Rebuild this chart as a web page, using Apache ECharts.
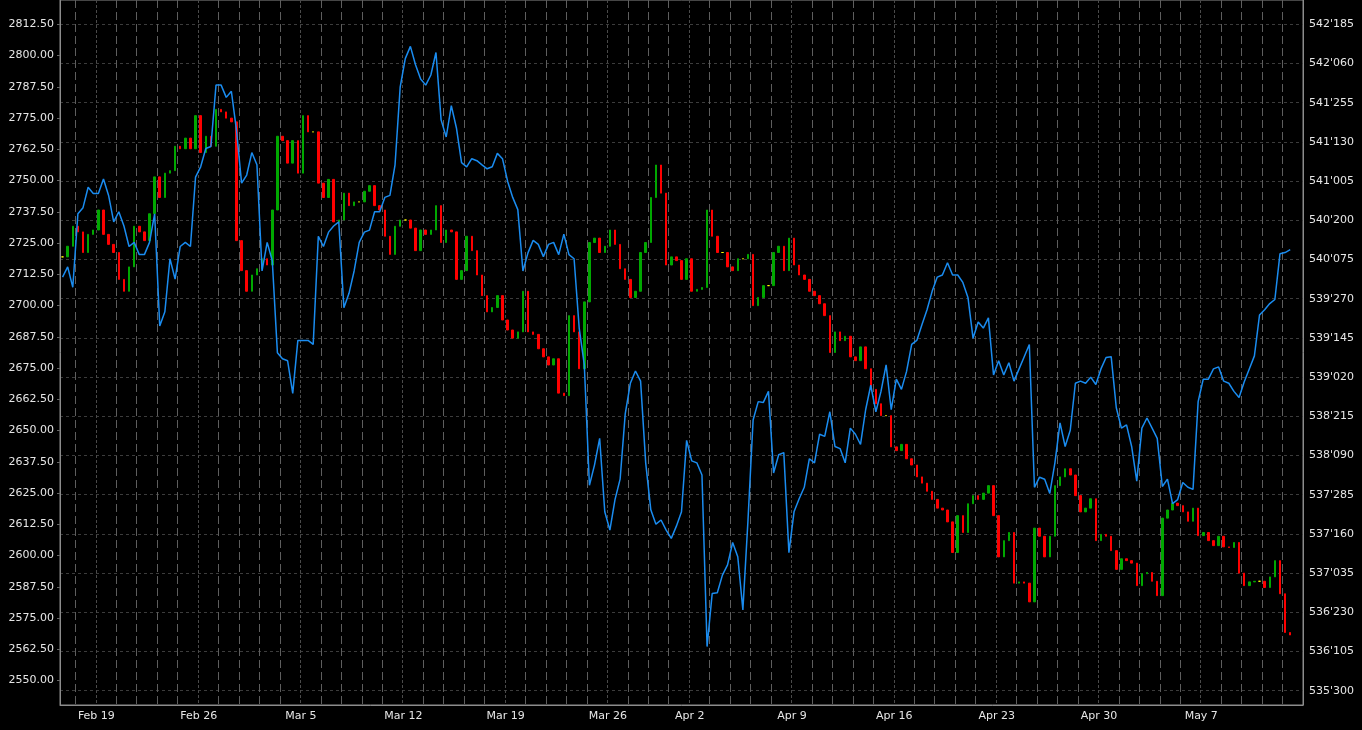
<!DOCTYPE html>
<html><head><meta charset="utf-8">
<script src="https://cdn.jsdelivr.net/npm/echarts@6/dist/echarts.min.js"></script>
<style>html,body{margin:0;padding:0;background:#000;}#c{width:1362px;height:730px;}</style>
</head><body><div id="c"></div><script>
// Trading days (Good Friday Mar 30 absent); first day is only partly visible
const days = ['2018-02-15','2018-02-16','2018-02-19','2018-02-20','2018-02-21','2018-02-22','2018-02-23',
'2018-02-26','2018-02-27','2018-02-28','2018-03-01','2018-03-02','2018-03-05','2018-03-06','2018-03-07','2018-03-08','2018-03-09',
'2018-03-12','2018-03-13','2018-03-14','2018-03-15','2018-03-16','2018-03-19','2018-03-20','2018-03-21','2018-03-22','2018-03-23',
'2018-03-26','2018-03-27','2018-03-28','2018-03-29','2018-04-02','2018-04-03','2018-04-04','2018-04-05','2018-04-06',
'2018-04-09','2018-04-10','2018-04-11','2018-04-12','2018-04-13','2018-04-16','2018-04-17','2018-04-18','2018-04-19','2018-04-20',
'2018-04-23','2018-04-24','2018-04-25','2018-04-26','2018-04-27','2018-04-30','2018-05-01','2018-05-02','2018-05-03','2018-05-04',
'2018-05-07','2018-05-08','2018-05-09','2018-05-10','2018-05-11'];
const barsPerDay = days.map((d, i) => i === 0 ? 3 : 4);

// Left axis series: closing price of each bar
const closes = [
2719.5,2723.75,2731.75,2729.5,2721.25,2728.5,2730.25,2738.25,2728.5,2724.5,2721.25,2710.5,2705.75,2715.5,2731.75,2729.5,2726,2736.75,2751.5,2743.25,
2753,2754,2763.75,2762.75,2767,2762.75,2776,2761.25,2767.75,2763.75,2778.5,2777.5,2775,2773.5,2726,2714,2705.75,2712.25,2714.75,2718.75,2716.25,
2738.25,2767.75,2766,2757,2766,2753,2776,2769.5,2769.5,2749,2743.25,2750.5,2733.5,2734.25,2745,2740,2741.5,2741.5,2745.75,2748,
2740,2738.25,2727.75,2720.5,2731.75,2734.25,2734.25,2731,2722,2730.25,2728.5,2730.25,2740,2725.25,2730.25,2729.5,2710.5,2714,2727.75,
2722,
2712.25,2704,2697.5,2699.25,2704,2694.25,2690.25,2687,2689.5,2705.75,2689.5,2688.5,2682.75,2679.5,2676.25,2678.75,2665,2664,2696,2689.5,
2674.75,2701.5,2725.25,2727,2721.25,2723.75,2730.25,2724.5,2714.75,2710.5,2703.25,2705.75,2721.25,2725.25,2743.25,2756.25,2745,2716.25,2719.5,
2718,2710.5,2718.75,2705.75,2706.5,2707.25,2738.25,2727.75,2721.25,2721.25,2715.5,2714,2718.75,2718.75,2720.5,2700,2703.25,2708,2708,2721.25,
2723.75,2714,2727,2716.25,2712.25,2710.5,2705.75,2704,2700.75,2696,2681.25,2689.5,2686,2687.75,2679.5,2678,2683.5,2674.75,2666.5,2660.75,
2656,2656,2643.5,2642,2644.5,2638.75,2636.25,2631.5,2629,2625.75,2622.5,2619,2618.25,2613.5,2601.25,2616,2609.25,2620.75,2624,2622.5,
2625,2628,2616,2599.5,2606,2609.25,2589,2589.5,2589,2581.5,2611,2607.75,2599.5,2607.75,2628,2631.5,2634.75,2632.25,2624,2617.5,
2619,2622.75,2606,2608.5,2607.75,2602,2594.5,2598.75,2598,2597,2588,2592.75,2593.25,2589.75,2584,2615,2618.25,2621,2620,2617.5,
2613.75,2619,2608,2609.25,2606,2604,2607.75,2603.5,2603.25,2605.25,2593,2588,2589.5,2589.75,2589.75,2587.25,2591.5,2598,2584.75,2569.25,2568.25];

// Right axis series (decimal points, shown in 32nds)
const blue = [
540.059,540.161,539.958,540.690,540.751,540.954,540.893,540.893,541.036,540.873,540.609,540.710,540.568,540.364,540.405,540.283,540.283,540.405,540.690,539.571,
539.713,540.242,540.039,540.364,540.405,540.364,541.056,541.158,541.341,541.361,541.972,541.972,541.850,541.911,541.524,540.995,541.076,541.300,541.178,540.120,540.405,
540.222,539.306,539.245,539.225,538.900,539.428,539.428,539.428,539.388,540.466,540.364,540.507,540.568,540.609,539.754,539.897,540.120,540.405,540.507,540.527,
540.710,540.710,540.853,540.873,541.178,541.951,542.236,542.358,542.175,542.033,541.972,542.073,542.297,541.626,541.455,541.768,541.545,541.199,541.158,
541.239,
541.219,541.178,541.138,541.158,541.292,541.239,541.015,540.853,540.731,540.120,540.303,540.425,540.385,540.263,540.385,540.405,540.283,540.487,540.283,540.242,
539.551,539.184,537.984,538.188,538.452,537.720,537.537,537.842,538.045,538.696,539.001,539.123,539.022,538.208,537.740,537.597,537.638,537.537,537.455,
537.577,537.720,538.432,538.228,538.208,538.086,536.377,536.906,536.914,537.089,537.191,537.414,537.272,536.743,537.638,538.635,538.818,538.810,538.920,538.106,
538.289,538.310,537.313,537.720,537.850,537.964,538.249,538.208,538.493,538.472,538.717,538.371,538.350,538.208,538.554,538.493,538.391,538.737,538.981,538.717,
538.920,539.184,538.737,539.042,538.940,539.119,539.388,539.428,539.583,539.734,539.917,540.059,540.080,540.202,540.080,540.080,540.006,539.856,539.449,539.612,
539.551,539.652,539.083,539.225,539.083,539.205,539.022,539.144,539.266,539.388,537.964,538.065,538.045,537.903,538.208,538.607,538.371,538.533,539.001,539.022,
539.001,539.062,538.989,539.144,539.258,539.266,538.757,538.554,538.586,538.371,538.025,538.554,538.655,538.554,538.452,537.972,538.045,537.801,537.842,538.012,
537.964,537.943,538.818,539.042,539.042,539.144,539.164,539.022,539.001,538.920,538.859,539.014,539.144,539.274,539.681,539.734,539.795,539.836,540.291,540.303,540.332];

const leftTicks = [2550,2562.5,2575,2587.5,2600,2612.5,2625,2637.5,2650,2662.5,2675,2687.5,2700,2712.5,2725,2737.5,2750,2762.5,2775,2787.5,2800,2812.5];
const rightTicks = [535.9375,536.328125,536.71875,537.109375,537.5,537.890625,538.28125,538.671875,539.0625,539.453125,539.84375,540.234375,540.625,541.015625,541.40625,541.796875,542.1875,542.578125];

const MON = ['Jan','Feb','Mar','Apr','May','Jun','Jul','Aug','Sep','Oct','Nov','Dec'];
const cats = [], dayStart = [], monday = [];
days.forEach((d, di) => {
  const dt = new Date(d + 'T12:00:00Z');
  for (let j = 0; j < barsPerDay[di]; j++) {
    cats.push(d + '#' + j);
    dayStart.push(j === 0 && di > 0);
    monday.push(j === 0 && dt.getUTCDay() === 1);
  }
});
function dayLabel(v) {
  const d = v.split('#')[0].split('-');
  return MON[+d[1] - 1] + ' ' + (+d[2]);
}
const candles = closes.map((c, i) => {
  const o = i === 0 ? c : closes[i - 1];
  return [o, c, Math.min(o, c), Math.max(o, c)];
});
function to32(v) {
  const ip = Math.floor(v + 1e-9);
  const f = Math.round((v - ip) * 320);
  return ip + "'" + String(f).padStart(3, '0');
}
const FONT = 'DejaVu Sans';
const chart = echarts.init(document.getElementById('c'), null, {renderer: 'canvas'});
chart.setOption({
  backgroundColor: '#000',
  animation: false,
  grid: {left: 60, right: 59, top: 0, bottom: 25, show: true, borderColor: '#8c8c8c', borderWidth: 1, backgroundColor: '#000', outerBoundsMode: 'none'},
  xAxis: [{
    type: 'category', data: cats, boundaryGap: true,
    axisLine: {show: true, lineStyle: {color: '#8c8c8c'}},
    axisTick: {show: false},
    axisLabel: {interval: (i) => monday[i], formatter: dayLabel, color: '#e6e6e6', fontSize: 11, fontFamily: FONT, margin: 6, padding: [0, 4, 0, 0]},
    splitLine: {show: true, interval: (i) => dayStart[i] && !monday[i], lineStyle: {color: '#5e5e5e', type: [8, 4], width: 1}}
  }, {
    type: 'category', data: cats, boundaryGap: true, position: 'bottom',
    axisLine: {show: false}, axisTick: {show: false}, axisLabel: {show: false},
    splitLine: {show: true, interval: (i) => monday[i], lineStyle: {color: '#4a4a4a', type: [3, 2], width: 1}}
  }],
  yAxis: [{
    type: 'value', position: 'left', min: 2540.25, max: 2822.25,
    axisLine: {show: true, lineStyle: {color: '#8c8c8c'}},
    axisTick: {show: true, length: 3, customValues: leftTicks, lineStyle: {color: '#666'}},
    axisLabel: {customValues: leftTicks, formatter: (v) => v.toFixed(2), color: '#e6e6e6', fontSize: 11, fontFamily: FONT, margin: 6},
    splitLine: {show: false}
  }, {
    type: 'value', position: 'right', min: 535.7947, max: 542.8203,
    axisLine: {show: true, lineStyle: {color: '#8c8c8c'}},
    axisTick: {show: false, customValues: rightTicks},
    axisLabel: {customValues: rightTicks, formatter: to32, color: '#e6e6e6', fontSize: 11, fontFamily: FONT, margin: 6},
    splitLine: {show: true, lineStyle: {color: '#3c3c3c', type: [3, 3], width: 1}}
  }],
  series: [{
    type: 'candlestick', xAxisIndex: 0, yAxisIndex: 0, data: candles, barWidth: 2,
    itemStyle: {color: '#00a800', color0: '#ff0000', borderColor: '#00a800', borderColor0: '#ff0000', borderColorDoji: '#ffff00', borderWidth: 1},
    z: 2
  }, {
    type: 'line', xAxisIndex: 0, yAxisIndex: 1, data: blue, showSymbol: false, symbol: 'none',
    lineStyle: {color: '#1a8cf0', width: 1.5}, z: 3
  }]
});
</script></body></html>
